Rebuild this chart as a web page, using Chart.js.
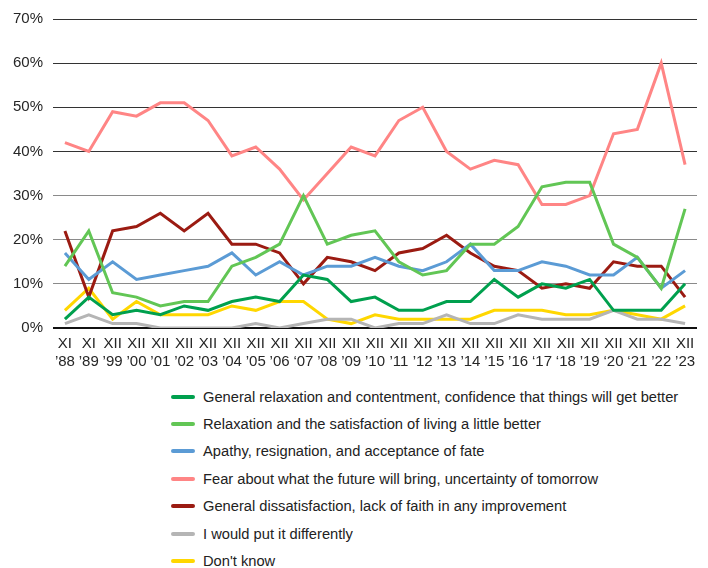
<!DOCTYPE html>
<html lang="en">
<head>
  <meta charset="UTF-8" />
  <title>Mood survey 1988-2023</title>
  <script src="https://cdn.jsdelivr.net/npm/chart.js"></script>
  <style>
    body {
      margin: 0;
      background: #fff;
      font-family: 'Liberation Sans', Arial, sans-serif;
      color: #222;
    }
    .wrap {
      position: relative;
      width: 708px;
      height: 568px;
    }
    .chart-box {
      position: absolute;
      left: 0;
      top: 0;
      width: 708px;
      height: 380px;
    }
    #legend {
      position: absolute;
      left: 171px;
      top: 383px;
      margin: 0;
      padding: 0;
      list-style: none;
    }
    #legend li {
      height: 27.4px;
      display: flex;
      align-items: center;
      font-size: 14.7px;
      white-space: nowrap;
    }
    #legend .swatch {
      display: inline-block;
      width: 24px;
      height: 4px;
      border-radius: 2px;
      margin-right: 8px;
    }
  </style>
</head>
<body>
<div class="wrap">
  <div class="chart-box"><canvas id="moodChart"></canvas></div>
  <ul id="legend"></ul>
</div>

<script>
  // survey waves (two-line tick labels)
  const months = ['XI', 'XI', 'XII', 'XII', 'XII', 'XII', 'XII', 'XII', 'XII', 'XII', 'XII', 'XII', 'XII', 'XII',
                  'XII', 'XII', 'XII', 'XII', 'XII', 'XII', 'XII', 'XII', 'XII', 'XII', 'XII', 'XII', 'XII'];
  const years = ['\u201988', '\u201989', '\u201999', '\u201900', '\u201901', '\u201902', '\u201903', '\u201904', '\u201905',
                 '\u201906', '\u201807', '\u201908', '\u201909', '\u201910', '\u201911', '\u201912', '\u201913', '\u201914',
                 '\u201915', '\u201916', '\u201817', '\u201818', '\u201919', '\u201820', '\u201821', '\u201922', '\u201923'];

  // percentages per wave
  const generalRelaxation = [2, 7, 3, 4, 3, 5, 4, 6, 7, 6, 12, 11, 6, 7, 4, 4, 6, 6, 11, 7, 10, 9, 11, 4, 4, 4, 10];
  const satisfaction      = [14, 22, 8, 7, 5, 6, 6, 14, 16, 19, 30, 19, 21, 22, 15, 12, 13, 19, 19, 23, 32, 33, 33, 19, 16, 9, 27];
  const apathy            = [17, 11, 15, 11, 12, 13, 14, 17, 12, 15, 12, 14, 14, 16, 14, 13, 15, 19, 13, 13, 15, 14, 12, 12, 16, 9, 13];
  const fear              = [42, 40, 49, 48, 51, 51, 47, 39, 41, 36, 29, 35, 41, 39, 47, 50, 40, 36, 38, 37, 28, 28, 30, 44, 45, 60, 37];
  const dissatisfaction   = [22, 7, 22, 23, 26, 22, 26, 19, 19, 17, 10, 16, 15, 13, 17, 18, 21, 17, 14, 13, 9, 10, 9, 15, 14, 14, 7];
  const differently       = [1, 3, 1, 1, 0, 0, 0, 0, 1, 0, 1, 2, 2, 0, 1, 1, 3, 1, 1, 3, 2, 2, 2, 4, 2, 2, 1];
  const dontKnow          = [4, 9, 2, 6, 3, 3, 3, 5, 4, 6, 6, 2, 1, 3, 2, 2, 2, 2, 4, 4, 4, 3, 3, 4, 3, 2, 5];

  const yTicks = [0, 10, 20, 30, 40, 50, 60, 70];

  const series = [
    { label: 'General relaxation and contentment, confidence that things will get better', data: generalRelaxation, color: '#00a04e' },
    { label: 'Relaxation and the satisfaction of living a little better', data: satisfaction, color: '#62c655' },
    { label: 'Apathy, resignation, and acceptance of fate', data: apathy, color: '#5b9bd5' },
    { label: 'Fear about what the future will bring, uncertainty of tomorrow', data: fear, color: '#ff8585' },
    { label: 'General dissatisfaction, lack of faith in any improvement', data: dissatisfaction, color: '#9b1b12' },
    { label: 'I would put it differently', data: differently, color: '#b5b5b5' },
    { label: "Don't know", data: dontKnow, color: '#ffd700' }
  ];

  const labels = months.map((m, i) => [m, years[i]]);

  Chart.defaults.font.family = "'Liberation Sans', Arial, sans-serif";
  Chart.defaults.color = '#262626';

  new Chart(document.getElementById('moodChart'), {
    type: 'line',
    data: {
      labels: labels,
      datasets: series.map(s => ({
        label: s.label,
        data: s.data,
        borderColor: s.color,
        backgroundColor: s.color,
        borderWidth: 3,
        pointRadius: 0,
        tension: 0,
        fill: false
      }))
    },
    options: {
      responsive: true,
      maintainAspectRatio: false,
      animation: false,
      layout: { padding: { top: 19, right: 11, left: 0, bottom: 0 } },
      plugins: {
        legend: { display: false },
        tooltip: { enabled: false }
      },
      scales: {
        x: {
          offset: true,
          grid: { display: false, drawTicks: false },
          border: { display: false },
          ticks: { font: { size: 15 }, padding: 7, maxRotation: 0, autoSkip: false, color: '#262626' },
          afterFit: s => { s.height = 52; }
        },
        y: {
          min: 0,
          max: 70,
          afterBuildTicks: s => { s.ticks = yTicks.map(v => ({ value: v })); },
          grid: {
            drawTicks: false,
            color: c => c.tick.value === 0 ? '#111' : (c.tick.value >= 40 ? '#333' : '#8a8a8a'),
            lineWidth: c => c.tick.value === 0 ? 2 : 1
          },
          border: { display: false },
          ticks: { font: { size: 15 }, padding: 10, callback: v => v + '%', color: '#262626' },
          afterFit: s => { s.width = 53; }
        }
      }
    }
  });

  // legend built from the same series list
  const legend = document.getElementById('legend');
  series.forEach(s => {
    const li = document.createElement('li');
    li.innerHTML = '<span class="swatch" style="background:' + s.color + '"></span>' + s.label;
    legend.appendChild(li);
  });
</script>
</body>
</html>
